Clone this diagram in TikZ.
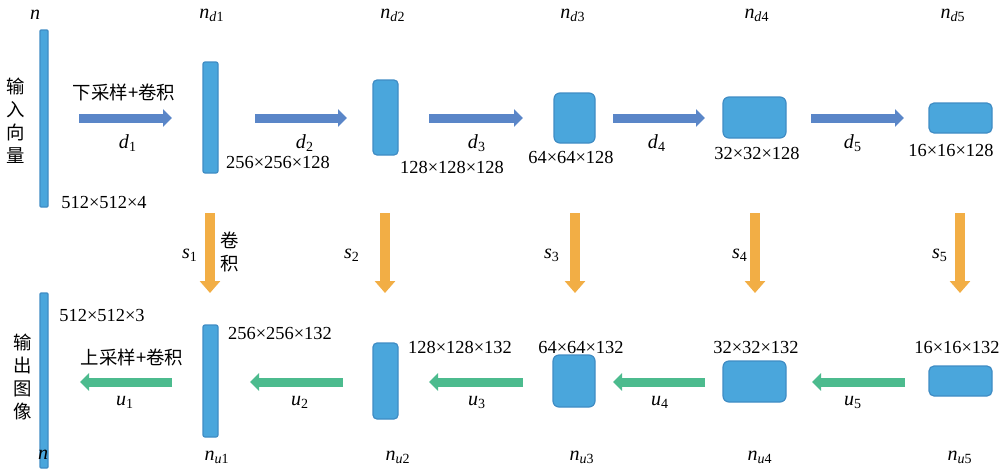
\documentclass[tikz,border=0pt]{standalone}
\usepackage{fontspec}
\setmainfont{Liberation Serif}
\newfontfamily\cjk{Noto Sans CJK SC}
\usetikzlibrary{arrows.meta}
\definecolor{boxfill}{HTML}{4AA6DC}
\definecolor{boxline}{HTML}{3F8CC4}
\definecolor{darrc}{HTML}{5A86C8}
\definecolor{sarrc}{HTML}{F2AE45}
\definecolor{uarrc}{HTML}{4CBB8E}
\newcommand{\subl}[2]{\textit{#1}\textsubscript{#2}}
\begin{document}
\begin{tikzpicture}[x=0.5pt,y=-0.5pt,
  blk/.style n args={3}{draw=boxline, fill=boxfill, line width=0.6pt, inner sep=0pt, outer sep=0pt,
     minimum width=#1*0.5pt, minimum height=#2*0.5pt, rounded corners=#3*0.5pt},
  harr/.style={line width=4.5pt, -{Triangle[width=8.5pt,length=4.5pt]}},
  darr/.style={harr, draw=darrc, color=darrc},
  uarr/.style={harr, draw=uarrc, color=uarrc},
  sarr/.style={line width=5pt, draw=sarrc, color=sarrc, -{Triangle[width=10pt,length=6pt]}},
  lbl/.style={font=\fontsize{9.2}{11}\selectfont, inner sep=0pt},
  sym/.style={font=\fontsize{10}{12}\selectfont, inner sep=0pt},
  cjkt/.style={font=\fontsize{9.2}{11.5}\selectfont\cjk, inner sep=0pt, align=center}]
\useasboundingbox (0,0) rectangle (1004,471);

% boxes
\node[blk={8}{177}{1}] (in) at (44,118.5) {};
\node[blk={15}{111}{2}] (nd1) at (210.5,117.5) {};
\node[blk={25}{75}{4}] (nd2) at (385.5,117.5) {};
\node[blk={41}{50}{6}] (nd3) at (574.5,118) {};
\node[blk={63}{41}{6}] (nd4) at (754.5,117.5) {};
\node[blk={63}{30}{5}] (nd5) at (960.5,118) {};
\node[blk={8}{175}{1}] (out) at (44,380.5) {};
\node[blk={15}{112}{2}] (nu1) at (210.5,381) {};
\node[blk={25}{76}{4}] (nu2) at (385.5,381) {};
\node[blk={42}{52}{6}] (nu3) at (574,381) {};
\node[blk={63}{41}{6}] (nu4) at (754.5,381.5) {};
\node[blk={63}{30}{5}] (nu5) at (960.5,381) {};

% arrow end points
\coordinate (d1s) at (79,118);  \coordinate (d1e) at (172,118);
\coordinate (d2s) at (255,118); \coordinate (d2e) at (347,118);
\coordinate (d3s) at (429,118); \coordinate (d3e) at (523,118);
\coordinate (d4s) at (613,118); \coordinate (d4e) at (705,118);
\coordinate (d5s) at (811,118); \coordinate (d5e) at (904,118);
\coordinate (u1s) at (172,382); \coordinate (u1e) at (80,382);
\coordinate (u2s) at (343,382); \coordinate (u2e) at (250,382);
\coordinate (u3s) at (523,382); \coordinate (u3e) at (429,382);
\coordinate (u4s) at (705,382); \coordinate (u4e) at (613,382);
\coordinate (u5s) at (905,382); \coordinate (u5e) at (812,382);
\coordinate (s1s) at (210,213); \coordinate (s1e) at (210,293);
\coordinate (s2s) at (385,213); \coordinate (s2e) at (385,293);
\coordinate (s3s) at (575,213); \coordinate (s3e) at (575,293);
\coordinate (s4s) at (755,213); \coordinate (s4e) at (755,293);
\coordinate (s5s) at (960,213); \coordinate (s5e) at (960,293);

\foreach \i in {1,...,5} {
  \draw[darr] (d\i s) -- (d\i e);
  \draw[uarr] (u\i s) -- (u\i e);
  \draw[sarr] (s\i s) -- (s\i e);
}

% top labels
\node[sym] (tn) at (35,15) {\textit{n}};
\node[sym] (lnd1) at (212,15) {\subl{n}{\textit{d}1}};
\node[sym] (lnd2) at (393,15) {\subl{n}{\textit{d}2}};
\node[sym] (lnd3) at (573,15) {\subl{n}{\textit{d}3}};
\node[sym] (lnd4) at (757,15) {\subl{n}{\textit{d}4}};
\node[sym] (lnd5) at (953,15) {\subl{n}{\textit{d}5}};

\node[cjkt] (tin) at (16,121) {输\\入\\向\\量};
\node[cjkt] (tdown) at (124,92) {下采样+卷积};
\node[cjkt] (tconv) at (230,252) {卷\\积};
\node[cjkt] (tout) at (23,377) {输\\出\\图\\像};
\node[cjkt] (tup) at (132,357) {上采样+卷积};

\node[sym] (ld1) at (128,143) {\subl{d}{1}};
\node[sym] (ld2) at (305,143) {\subl{d}{2}};
\node[sym] (ld3) at (477,143) {\subl{d}{3}};
\node[sym] (ld4) at (657,143) {\subl{d}{4}};
\node[sym] (ld5) at (853,143) {\subl{d}{5}};

\node[lbl] (z0) at (104,202) {512×512×4};
\node[lbl] (z1) at (278,162) {256×256×128};
\node[lbl] (z2) at (452,167) {128×128×128};
\node[lbl] (z3) at (571,157) {64×64×128};
\node[lbl] (z4) at (757,153) {32×32×128};
\node[lbl] (z5) at (951,150) {16×16×128};

\node[sym] (ls1) at (190,255) {\subl{s}{1}};
\node[sym] (ls2) at (352,255) {\subl{s}{2}};
\node[sym] (ls3) at (552,255) {\subl{s}{3}};
\node[sym] (ls4) at (740,255) {\subl{s}{4}};
\node[sym] (ls5) at (940,255) {\subl{s}{5}};

\node[lbl] (w0) at (102,315) {512×512×3};
\node[lbl] (w1) at (280,333) {256×256×132};
\node[lbl] (w2) at (460,347) {128×128×132};
\node[lbl] (w3) at (581,347) {64×64×132};
\node[lbl] (w4) at (756,347) {32×32×132};
\node[lbl] (w5) at (957,347) {16×16×132};

\node[sym] (lu1) at (125,402) {\subl{u}{1}};
\node[sym] (lu2) at (300,402) {\subl{u}{2}};
\node[sym] (lu3) at (477,402) {\subl{u}{3}};
\node[sym] (lu4) at (660,402) {\subl{u}{4}};
\node[sym] (lu5) at (853,402) {\subl{u}{5}};

\node[sym] (bn) at (43,455) {\textit{n}};
\node[sym] (lnu1) at (217,457) {\subl{n}{\textit{u}1}};
\node[sym] (lnu2) at (398,457) {\subl{n}{\textit{u}2}};
\node[sym] (lnu3) at (582,457) {\subl{n}{\textit{u}3}};
\node[sym] (lnu4) at (760,457) {\subl{n}{\textit{u}4}};
\node[sym] (lnu5) at (960,457) {\subl{n}{\textit{u}5}};
\end{tikzpicture}
\end{document}
